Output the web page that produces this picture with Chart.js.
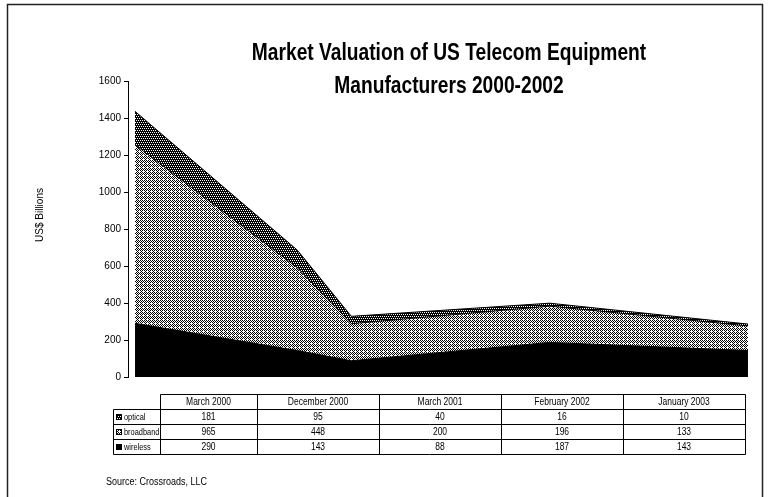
<!DOCTYPE html>
<html>
<head>
<meta charset="utf-8">
<script src="https://cdn.jsdelivr.net/npm/chart.js@4/dist/chart.umd.min.js"></script>
<style>
  html, body { margin: 0; padding: 0; background: #fff; }
  #wrap { width: 768px; height: 497px; }
</style>
</head>
<body>
<div id="wrap"><canvas id="c" width="768" height="497"></canvas></div>
<script>
// Chart text
const titleLines = ['Market Valuation of US Telecom Equipment', 'Manufacturers 2000-2002'];
const yAxisTitle = 'US$ Billions';
const sourceNote = 'Source: Crossroads, LLC';

// Categories (survey dates) and their distance from March 2000 in months
const categories = ['March 2000', 'December 2000', 'March 2001', 'February 2002', 'January 2003'];
const monthOffsets = [0, 9, 12, 23, 34];

// Market valuation by segment, US$ billions
const optical   = [181, 95, 40, 16, 10];
const broadband = [965, 448, 200, 196, 133];
const wireless  = [290, 143, 88, 187, 143];

// Value axis
const yTicks = [0, 200, 400, 600, 800, 1000, 1200, 1400, 1600];

const FONT = '"Liberation Sans", Arial, sans-serif';

// Monochrome fill patterns
function makePattern(size, bg, fg, pts) {
  const c = document.createElement('canvas');
  c.width = size; c.height = size;
  const x = c.getContext('2d');
  x.fillStyle = bg; x.fillRect(0, 0, size, size);
  x.fillStyle = fg;
  pts.forEach(([a, b]) => x.fillRect(a, b, 1, 1));
  return x.createPattern(c, 'repeat');
}
const opticalFill = makePattern(4, '#000', '#fff', [[0, 0], [2, 0], [1, 2], [3, 2]]);
const broadbandFill = makePattern(4, '#fff', '#000',
  [[0, 0], [2, 0], [1, 1], [3, 1], [0, 2], [2, 2], [1, 3]]);
const wirelessFill = '#000';

const series = [
  { name: 'optical', values: optical, fill: opticalFill },
  { name: 'broadband', values: broadband, fill: broadbandFill },
  { name: 'wireless', values: wireless, fill: wirelessFill }
];

const toPoints = vals => monthOffsets.map((m, i) => ({ x: m, y: vals[i] }));

// Data table layout: row-header column, then one column per category
const tableLeft = 113;
const tableCols = [160, 257, 379, 501, 623, 745];
const tableTop = 394;
const rowH = 15;

// Title, frame, data table and source note drawn on the chart canvas
const decorations = {
  id: 'decorations',
  beforeDraw(chart) {
    const ctx = chart.ctx;
    ctx.save();
    ctx.fillStyle = '#fff';
    ctx.fillRect(0, 0, chart.width, chart.height);
    ctx.restore();
  },
  afterDraw(chart) {
    const ctx = chart.ctx;
    ctx.save();

    // outer frame
    ctx.strokeStyle = '#222';
    ctx.lineWidth = 1.5;
    ctx.strokeRect(7.5, 4.5, 755, 500);

    // title (narrow bold face)
    ctx.fillStyle = '#000';
    ctx.textAlign = 'center';
    ctx.textBaseline = 'alphabetic';
    ctx.font = 'bold 24px ' + FONT;
    const tx = 449;
    [[titleLines[0], 60], [titleLines[1], 93]].forEach(([t, y]) => {
      ctx.save();
      ctx.translate(tx, y);
      ctx.scale(0.8, 1);
      ctx.fillText(t, 0, 0);
      ctx.restore();
    });

    // y-axis title
    ctx.save();
    ctx.translate(40, 215);
    ctx.rotate(-Math.PI / 2);
    ctx.font = '10px ' + FONT;
    ctx.textBaseline = 'middle';
    ctx.fillText(yAxisTitle, 0, 0);
    ctx.restore();

    // data table grid
    const px = v => Math.round(v) + 0.5;
    const nRows = series.length + 1;
    const right = tableCols[tableCols.length - 1];
    ctx.strokeStyle = '#000';
    ctx.lineWidth = 1;
    ctx.beginPath();
    ctx.moveTo(px(tableCols[0]), px(tableTop)); ctx.lineTo(px(right), px(tableTop));
    for (let r = 1; r <= nRows; r++) {
      const y = px(tableTop + r * rowH);
      ctx.moveTo(px(tableLeft), y);
      ctx.lineTo(px(right), y);
    }
    ctx.moveTo(px(tableLeft), px(tableTop + rowH)); ctx.lineTo(px(tableLeft), px(tableTop + rowH * nRows));
    tableCols.forEach(x => {
      ctx.moveTo(px(x), px(tableTop)); ctx.lineTo(px(x), px(tableTop + rowH * nRows));
    });
    ctx.stroke();

    // data table text
    ctx.font = '10px ' + FONT;
    ctx.textBaseline = 'middle';
    ctx.textAlign = 'center';
    const cellText = (t, cx, cy) => {
      ctx.save();
      ctx.translate(cx, cy);
      ctx.scale(0.85, 1);
      ctx.fillText(t, 0, 0);
      ctx.restore();
    };
    const colCenter = c => (tableCols[c] + tableCols[c + 1]) / 2;
    categories.forEach((cat, c) => cellText(cat, colCenter(c), tableTop + rowH / 2 + 0.5));
    series.forEach((s, r) => {
      const cy = tableTop + rowH * (r + 1) + rowH / 2 + 0.5;
      // legend key
      ctx.fillStyle = s.fill;
      ctx.fillRect(tableLeft + 3, Math.round(cy) - 3, 6, 6);
      ctx.strokeStyle = '#000';
      ctx.strokeRect(tableLeft + 3.5, Math.round(cy) - 2.5, 5, 5);
      ctx.fillStyle = '#000';
      ctx.save();
      ctx.textAlign = 'left';
      ctx.font = '9.5px ' + FONT;
      ctx.translate(tableLeft + 11, cy);
      ctx.scale(0.78, 1);
      ctx.fillText(s.name, 0, 0);
      ctx.restore();
      s.values.forEach((v, c) => cellText(String(v), colCenter(c), cy));
    });

    // source note
    ctx.textAlign = 'left';
    ctx.font = '10px ' + FONT;
    ctx.save();
    ctx.translate(106, 482);
    ctx.scale(0.9, 1);
    ctx.fillText(sourceNote, 0, 0);
    ctx.restore();

    ctx.restore();
  }
};

// stacked from the baseline up: wireless, broadband, optical
const stackOrder = [series[2], series[1], series[0]];

new Chart(document.getElementById('c'), {
  type: 'line',
  data: {
    datasets: stackOrder.map((s, i) => ({
      label: s.name,
      data: toPoints(s.values),
      backgroundColor: s.fill,
      borderColor: '#000',
      borderWidth: 1,
      pointRadius: 0,
      tension: 0,
      fill: i === 0 ? 'origin' : '-1'
    }))
  },
  options: {
    responsive: false,
    animation: false,
    devicePixelRatio: 1,
    layout: { padding: { left: 88, right: 13, top: 81, bottom: 120 } },
    plugins: {
      legend: { display: false },
      title: { display: false },
      tooltip: { enabled: false }
    },
    scales: {
      x: {
        type: 'linear',
        display: false,
        min: -0.39,
        max: 34.39
      },
      y: {
        stacked: true,
        min: 0,
        max: 1600,
        afterBuildTicks: scale => { scale.ticks = yTicks.map(v => ({ value: v })); },
        afterFit: scale => { scale.width = 40; },
        border: { display: true, color: '#000', width: 1 },
        grid: { drawOnChartArea: false, drawTicks: true, tickLength: 4, color: '#000' },
        ticks: {
          color: '#000',
          padding: 3,
          font: { family: FONT, size: 10 },
          callback: v => String(v)
        }
      }
    }
  },
  plugins: [decorations]
});
</script>
</body>
</html>
